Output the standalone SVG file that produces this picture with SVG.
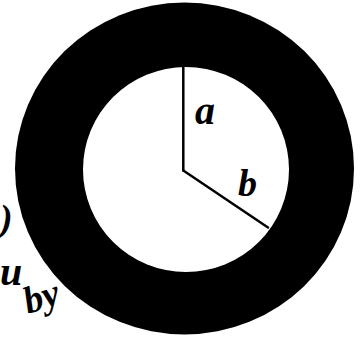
<svg xmlns="http://www.w3.org/2000/svg" width="362" height="337" viewBox="0 0 362 337">
<style>
.lbl{font-family:"Liberation Serif","DejaVu Serif",serif;font-style:italic;font-weight:bold;fill:#000}
.rad{stroke:#000;stroke-width:2.5;fill:none;stroke-linecap:round}
</style>
<rect width="362" height="337" fill="#fff"/>
<g id="annulus">
<ellipse cx="184.5" cy="168.5" rx="169.5" ry="166" fill="#000"/>
<ellipse cx="186" cy="169.5" rx="103" ry="102.5" fill="#fff"/>
</g>
<g id="radii">
<line class="rad" x1="183.3" y1="67.5" x2="183.3" y2="170.5"/>
<line class="rad" x1="183.3" y1="170.5" x2="268" y2="227.5"/>
</g>
<g id="label-a"><text class="lbl" x="195" y="124" font-size="40">a</text></g>
<g id="label-b"><text class="lbl" x="238" y="196" font-size="38">b</text></g>
<g id="margin-text">
<text class="lbl" x="0" y="231" font-size="38">)</text>
<text class="lbl" x="0" y="285" font-size="40">u</text>
<text class="lbl" x="28" y="314" font-size="38" transform="rotate(-18 28 314)">by</text>
</g>
</svg>
